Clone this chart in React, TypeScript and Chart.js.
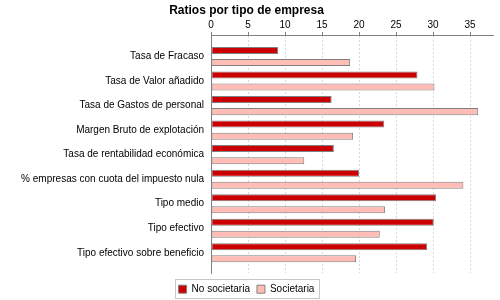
import React, { useEffect, useRef } from 'react';
import { Chart, registerables } from 'chart.js';

Chart.register(...registerables);

const title = 'Ratios por tipo de empresa';
const categories = [
  'Tasa de Fracaso',
  'Tasa de Valor añadido',
  'Tasa de Gastos de personal',
  'Margen Bruto de explotación',
  'Tasa de rentabilidad económica',
  '% empresas con cuota del impuesto nula',
  'Tipo medio',
  'Tipo efectivo',
  'Tipo efectivo sobre beneficio',
];
const seriesNames = ['No societaria', 'Societaria'];
const noSocietaria = [9.05, 27.9, 16.3, 23.4, 16.6, 20.0, 30.4, 30.1, 29.2];
const societaria = [18.8, 30.2, 36.1, 19.2, 12.6, 34.1, 23.5, 22.8, 19.6];
const xMin = 0;
const xMax = 38.1;
const xStep = 5;

const FONT = "'Liberation Sans', Arial, Helvetica, sans-serif";

const legendBorder = {
  id: 'legendBorder',
  afterDraw(chart: any) {
    const lg = chart.legend;
    if (!lg || !lg.legendHitBoxes || !lg.legendHitBoxes.length) return;
    const hb = lg.legendHitBoxes;
    const first = hb[0];
    const last = hb[hb.length - 1];
    const left = Math.round(first.left) - 3.5;
    const right = Math.round(last.left + last.width) + 5.5;
    const top = Math.round(first.top) - 4.5;
    const bottom = top + 19;
    const ctx = chart.ctx;
    ctx.save();
    ctx.strokeStyle = '#c8c8c8';
    ctx.lineWidth = 1;
    ctx.strokeRect(left, top, right - left, bottom - top);
    ctx.restore();
  },
};

export default function App() {
  const ref = useRef<HTMLCanvasElement | null>(null);

  useEffect(() => {
    const canvas = ref.current;
    if (!canvas) return;
    document.body.style.margin = '0';
    const chart = new Chart(canvas, {
      type: 'bar',
      data: {
        datasets: [
          {
            label: seriesNames[0],
            data: noSocietaria.map((v, i) => ({ x: v, y: i })),
            backgroundColor: '#cc0000',
            borderColor: '#808080',
            borderWidth: 1,
            borderSkipped: false,
          },
          {
            label: seriesNames[1],
            data: societaria.map((v, i) => ({ x: v, y: i })),
            backgroundColor: '#ffbdb5',
            borderColor: '#808080',
            borderWidth: 1,
            borderSkipped: false,
          },
        ],
      },
      plugins: [legendBorder],
      options: {
        indexAxis: 'y',
        responsive: false,
        animation: false,
        categoryPercentage: 0.986,
        barPercentage: 0.58,
        layout: { padding: { left: 0, right: 7, top: 0, bottom: 0 } },
        font: { family: FONT, size: 10 },
        color: '#000',
        scales: {
          x: {
            type: 'linear',
            position: 'top',
            min: xMin,
            max: xMax,
            afterFit(scale: any) {
              scale.height = 17.6;
            },
            ticks: {
              stepSize: xStep,
              includeBounds: false,
              padding: 1,
              color: '#000',
              font: { family: FONT, size: 10 },
              callback: (v: any) => (Number(v) % xStep === 0 ? String(v) : ''),
            },
            grid: {
              color: '#d8d8d8',
              tickColor: '#808080',
              tickLength: 3,
              lineWidth: 1,
            },
            border: { color: '#808080', width: 1, dash: [2, 2] },
          },
          y: {
            type: 'linear',
            position: 'left',
            reverse: true,
            offset: false,
            min: -0.876,
            max: 8.823,
            afterFit(scale: any) {
              scale.width = 211;
            },
            ticks: {
              stepSize: 1,
              includeBounds: false,
              autoSkip: false,
              padding: 7,
              color: '#000',
              font: { family: FONT, size: 10 },
              callback: (v: any) => {
                const n = Number(v);
                return Number.isInteger(n) && n >= 0 && n < categories.length ? categories[n] : '';
              },
            },
            grid: { display: true, offset: false, color: 'rgba(0,0,0,0)', drawTicks: false },
            border: { color: '#808080', width: 1 },
          },
        },
        plugins: {
          title: {
            display: true,
            text: title,
            color: '#000',
            font: { family: FONT, size: 12, weight: 'bold' },
            padding: { top: 3, bottom: 0 },
          },
          legend: {
            display: true,
            position: 'bottom',
            maxHeight: 27,
            title: { display: true, text: '', font: { size: 1 }, padding: { top: 3, bottom: 0 } },
            labels: {
              boxWidth: 8,
              boxHeight: 8,
              padding: 7,
              color: '#000',
              font: { family: FONT, size: 10 },
            },
          },
          tooltip: { enabled: false },
        },
      } as any,
    });
    return () => chart.destroy();
  }, []);

  return (
    <div style={{ position: 'absolute', left: 0, top: 0, width: 500, height: 300, background: '#fff' }}>
      <canvas ref={ref} width={500} height={300} />
    </div>
  );
}
